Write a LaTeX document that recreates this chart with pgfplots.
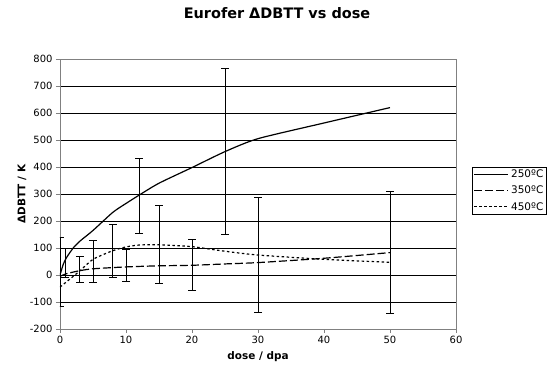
\documentclass[border=0pt]{standalone}
\usepackage{pgfplots}
\pgfplotsset{compat=1.18}
\usepackage{fontspec}
\setmainfont{DejaVu Sans}
\begin{document}
\begin{tikzpicture}[x=1bp,y=1bp]
\useasboundingbox (-60,-40) rectangle (494,329);
\begin{axis}[
  at={(0,0)}, anchor=south west,
  scale only axis, width=396bp, height=270bp,
  xmin=0, xmax=60, ymin=-200, ymax=800,
  xtick={0,10,...,60}, ytick={-200,-100,...,800},
  tick align=outside, tick pos=left, major tick length=4bp,
  minor tick num=0,
  ymajorgrids, grid style={black, line width=0.7bp},
  axis line style={gray, line width=0.8bp},
  tick style={gray, line width=0.8bp},
  ticklabel style={font=\fontsize{10}{12}\selectfont},
  /pgf/number format/assume math mode=true,
  title={\bfseries Eurofer ΔDBTT vs dose},
  title style={at={(axis description cs:0.548,1)}, anchor=center, yshift=40bp, font=\fontsize{14.5}{16}\selectfont},
  xlabel={\bfseries dose / dpa},
  ylabel={\bfseries ΔDBTT / K},
  xlabel style={at={(axis description cs:0.5,-0.104)}, anchor=center, font=\fontsize{10.5}{12}\selectfont},
  ylabel style={at={(axis description cs:-0.096,0.5)}, anchor=center, font=\fontsize{10.5}{12}\selectfont},
  legend style={at={(axis description cs:1.0404,0.6)}, anchor=north west, draw=black, line width=0.5bp,
    font=\fontsize{10.5}{12}\selectfont, inner sep=1.5bp, row sep=4.5bp,
    nodes={inner sep=1.2bp}, cells={anchor=west}},
  legend image code/.code={\draw[#1] (0bp,0bp) -- (34bp,0bp);},
]
% error bars
\addplot[forget plot, draw=none, mark=none,
  error bars/.cd, y dir=both, y explicit,
  error bar style={draw=black, solid, line width=0.9bp},
  error mark options={draw=black, solid, rotate=90, mark size=4bp, line width=0.9bp}]
  coordinates {
  (0,12.5) +- (0,127.5)
  (0.8,45) +- (0,55)
  (3,20) +- (0,48)
  (5,50) +- (0,77)
  (8,90) +- (0,99)
  (10,34) +- (0,59)
  (12,292.5) +- (0,139.5)
  (15,113) +- (0,146)
  (20,37) +- (0,93)
  (25,458.5) +- (0,307.5)
  (30,74) +- (0,214)
  (50,83) +- (0,226)
  };
\addplot[black, line width=1.2bp, smooth, tension=0.4] coordinates {
  (0,0) (0.5,40) (1,65) (2,100) (3,125) (5,165) (8,232) (10,265) (12,296)
  (15,340) (20,398) (25,457) (30,505) (40,563) (50,620)};
\addlegendentry{\hspace{1bp}250ºC}
\addplot[black, line width=1.2bp, smooth, tension=0.4, dash pattern=on 8bp off 3bp] coordinates {
  (0,-5) (1,5) (3,16) (5,23) (10,30) (15,34) (20,36) (25,41) (30,46) (40,62) (50,83)};
\addlegendentry{\hspace{1bp}350ºC}
\addplot[black, line width=1.2bp, smooth, tension=0.4, dash pattern=on 2.5bp off 2.5bp] coordinates {
  (0,-45) (1,-25) (3,15) (5,58) (8,90) (10,104) (12,111) (15,112) (20,105) (25,88) (30,74) (40,58) (50,47)};
\addlegendentry{\hspace{1bp}450ºC}
\end{axis}
\end{tikzpicture}
\end{document}
